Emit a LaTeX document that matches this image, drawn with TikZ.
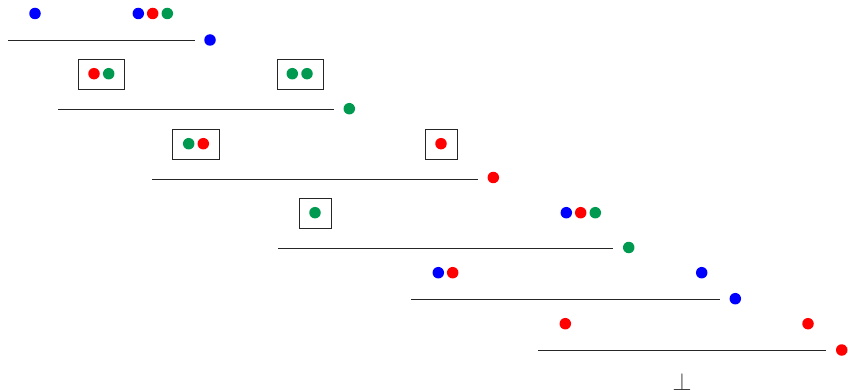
\documentclass[tikz,border=0pt]{standalone}
\usepackage{tikz}
\definecolor{dblue}{RGB}{0,0,255}
\definecolor{dred}{RGB}{255,0,0}
\definecolor{dgreen}{RGB}{0,153,80}
\begin{document}
\begin{tikzpicture}[x=1pt,y=-1pt,
  dot/.style={circle,inner sep=0pt,minimum size=11.5pt},
  bd/.style={dot,fill=dblue},
  rd/.style={dot,fill=dred},
  gd/.style={dot,fill=dgreen},
  rule/.style={line width=0.8pt,draw=black!85},
  ctx/.style={draw=black!85,line width=0.9pt}]
\useasboundingbox (0,0) rectangle (848,390);
% row 1
\node[bd] (a1) at (35,13.5) {};
\node[bd] (a2) at (138.3,13.5) {};
\node[rd] (a3) at (152.7,13.5) {};
\node[gd] (a4) at (167.3,13.5) {};
\draw[rule] (8,40) coordinate (l1a) -- (195,40) coordinate (l1b);
\node[bd] (c1) at (210,40) {};
% row 2
\draw[ctx] (78.3,59.3) rectangle (124.3,89.7);
\node[rd] (b1) at (94,73.7) {};
\node[gd] (b2) at (108.7,73.7) {};
\draw[ctx] (277,59.3) rectangle (323.3,89.7);
\node[gd] (b3) at (292.3,73.7) {};
\node[gd] (b4) at (307,73.7) {};
\draw[rule] (58,109.3) coordinate (l2a) -- (334,109.3) coordinate (l2b);
\node[gd] (c2) at (349.3,108.7) {};
% row 3
\draw[ctx] (172.7,129.3) rectangle (219.3,159);
\node[gd] (d1) at (188.7,143.7) {};
\node[rd] (d2) at (203.3,143.7) {};
\draw[ctx] (425.3,129.3) rectangle (457.3,159);
\node[rd] (d3) at (441,143.7) {};
\draw[rule] (152,179) coordinate (l3a) -- (478.3,179) coordinate (l3b);
\node[rd] (c3) at (493.3,177.5) {};
% row 4
\draw[ctx] (299.3,198.3) rectangle (331,228.3);
\node[gd] (e1) at (315,212.7) {};
\node[bd] (e2) at (566.3,212.7) {};
\node[rd] (e3) at (580.7,212.7) {};
\node[gd] (e4) at (595.3,212.7) {};
\draw[rule] (278.3,248) coordinate (l4a) -- (613.3,248) coordinate (l4b);
\node[gd] (c4) at (628.7,247.5) {};
% row 5
\node[bd] (f1) at (438.3,272.7) {};
\node[rd] (f2) at (452.7,272.7) {};
\node[bd] (f3) at (701.7,272.7) {};
\draw[rule] (411,299) coordinate (l5a) -- (720,299) coordinate (l5b);
\node[bd] (c5) at (735.3,298.7) {};
% row 6
\node[rd] (g1) at (565.3,323.7) {};
\node[rd] (g2) at (808,323.7) {};
\draw[rule] (538,350.3) coordinate (l6a) -- (826.3,350.3) coordinate (l6b);
\node[rd] (c6) at (841.7,350) {};
% bottom
\node[anchor=base,inner sep=0pt,font=\fontsize{27}{32}\selectfont,text=black!75] (bot) at (682,390.5) {$\bot$};
\end{tikzpicture}
\end{document}
